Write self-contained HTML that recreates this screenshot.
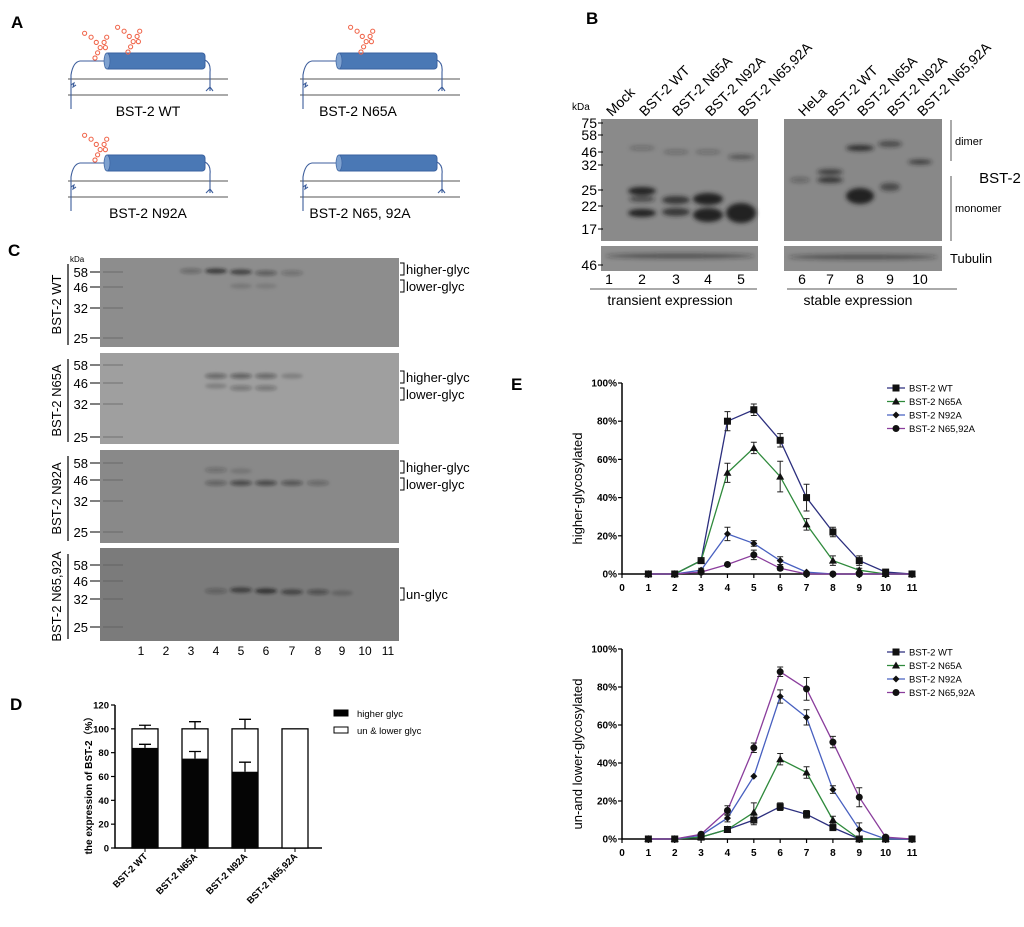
<!DOCTYPE html>
<html><head><meta charset="utf-8">
<style>
body{margin:0;background:#fff;}
svg{display:block;font-family:"Liberation Sans","Noto Sans CJK SC",sans-serif;}
</style></head>
<body>
<svg id="fig" width="1024" height="927" viewBox="0 0 1024 927" xmlns="http://www.w3.org/2000/svg">
<defs>
<filter id="blur" x="-50%" y="-50%" width="200%" height="200%"><feGaussianBlur stdDeviation="1.6"/></filter>
<filter id="blurB" x="-50%" y="-50%" width="200%" height="200%"><feGaussianBlur stdDeviation="2.2"/></filter>
<g id="glycan" fill="none" stroke="#f0654a" stroke-width="0.8" transform="scale(1.3)">
<circle cx="0" cy="0" r="1.6"/><circle cx="2" cy="-4" r="1.6"/><circle cx="4" cy="-8" r="1.6"/><circle cx="1" cy="-12" r="1.6"/><circle cx="-3" cy="-16" r="1.6"/><circle cx="-8" cy="-19" r="1.6"/><circle cx="7" cy="-12" r="1.6"/><circle cx="9" cy="-16" r="1.6"/><circle cx="8" cy="-8" r="1.6"/>
</g>
</defs>

<!-- Panel A -->
<text x="11" y="28" font-size="17" font-weight="bold">A</text>
<g id="panelA"></g>

<!-- Panel B -->
<text x="586" y="24" font-size="17" font-weight="bold">B</text>
<g>
<rect x="601" y="119" width="157" height="122" fill="#8a8a8a"/>
<rect x="784" y="119" width="158" height="122" fill="#888"/>
<rect x="601" y="246" width="157" height="25" fill="#8e8e8e"/>
<rect x="784" y="246" width="158" height="25" fill="#8c8c8c"/>
<g filter="url(#blurB)" fill="#222">
<ellipse cx="642" cy="191" rx="14" ry="4"/><ellipse cx="642" cy="213" rx="14" ry="4"/><ellipse cx="642" cy="199" rx="13" ry="3" opacity=".6"/>
<ellipse cx="676" cy="200" rx="14" ry="4" opacity=".8"/><ellipse cx="676" cy="212" rx="14" ry="4" opacity=".8"/>
<ellipse cx="708" cy="199" rx="15" ry="6"/><ellipse cx="708" cy="215" rx="15" ry="7"/>
<ellipse cx="741" cy="213" rx="15" ry="10"/>
<ellipse cx="642" cy="148" rx="13" ry="2" opacity=".3"/><ellipse cx="676" cy="152" rx="13" ry="2" opacity=".3"/><ellipse cx="708" cy="152" rx="13" ry="2" opacity=".3"/><ellipse cx="741" cy="157" rx="13" ry="2.5" opacity=".5"/>
<ellipse cx="800" cy="180" rx="10" ry="2.5" opacity=".35"/>
<ellipse cx="830" cy="172" rx="13" ry="3" opacity=".7"/><ellipse cx="830" cy="180" rx="13" ry="3" opacity=".8"/>
<ellipse cx="860" cy="148" rx="14" ry="3" opacity=".85"/><ellipse cx="860" cy="196" rx="14" ry="8"/>
<ellipse cx="890" cy="144" rx="12" ry="3" opacity=".6"/><ellipse cx="890" cy="187" rx="10" ry="4" opacity=".6"/>
<ellipse cx="920" cy="162" rx="12" ry="2.2" opacity=".8"/>
<ellipse cx="680" cy="256" rx="75" ry="2.5" opacity=".55"/><ellipse cx="863" cy="257" rx="75" ry="2.5" opacity=".55"/>
</g>
<text x="572" y="110" font-size="10">kDa</text>
<g font-size="14" text-anchor="end"><text x="597" y="128">75</text><text x="597" y="140">58</text><text x="597" y="157">46</text><text x="597" y="170">32</text><text x="597" y="195">25</text><text x="597" y="211">22</text><text x="597" y="234">17</text><text x="597" y="270">46</text></g>
<g stroke="#000" stroke-width="1"><path d="M598 123h5M598 135h5M598 152h5M598 165h5M598 190h5M598 206h5M598 229h5M598 265h5"/></g>
<g font-size="14"><text transform="translate(612,117) rotate(-45)">Mock</text><text transform="translate(645,117) rotate(-45)">BST-2 WT</text><text transform="translate(678,117) rotate(-45)">BST-2 N65A</text><text transform="translate(711,117) rotate(-45)">BST-2 N92A</text><text transform="translate(744,117) rotate(-45)">BST-2 N65,92A</text>
<text transform="translate(804,117) rotate(-45)">HeLa</text><text transform="translate(833,117) rotate(-45)">BST-2 WT</text><text transform="translate(863,117) rotate(-45)">BST-2 N65A</text><text transform="translate(893,117) rotate(-45)">BST-2 N92A</text><text transform="translate(923,117) rotate(-45)">BST-2 N65,92A</text></g>
<g font-size="14" text-anchor="middle"><text x="609" y="284">1</text><text x="642" y="284">2</text><text x="676" y="284">3</text><text x="708" y="284">4</text><text x="741" y="284">5</text><text x="802" y="284">6</text><text x="830" y="284">7</text><text x="860" y="284">8</text><text x="890" y="284">9</text><text x="920" y="284">10</text>
<text x="670" y="305">transient expression</text><text x="858" y="305">stable expression</text></g>
<path d="M590 289h167M787 289h170M951 120v41M951 176v65" stroke="#555" stroke-width="1"/>
<text x="955" y="145" font-size="11">dimer</text><text x="955" y="212" font-size="11">monomer</text>
<text x="1000" y="183" font-size="15" text-anchor="middle">BST-2</text>
<text x="950" y="263" font-size="13">Tubulin</text>
</g>

<!-- Panel C -->
<text x="8" y="256" font-size="17" font-weight="bold">C</text>
<g id="panelC"></g>

<!-- Panel D -->
<text x="10" y="710" font-size="17" font-weight="bold">D</text>
<g id="panelD"></g>

<!-- Panel E -->
<text x="511" y="390" font-size="17" font-weight="bold">E</text>
<g id="panelE1"></g>
<g id="panelE2"></g>
</svg>

<script>
// ---------- Panel E data ----------
const fractions = [0,1,2,3,4,5,6,7,8,9,10,11];
const xTickLabels = ["0","1","2","3","4","5","6","7","8","9","10","11"];
const yTickLabels = ["0%","20%","40%","60%","80%","100%"];
const seriesNames = ["BST-2 WT","BST-2 N65A","BST-2 N92A","BST-2 N65,92A"];
const higherWT    = [0,0,7,80,86,70,40,22,7,1,0];
const higherN65A  = [0,0,7,53,66,51,26,7,2,0,0];
const higherN92A  = [0,0,2,21,16,7,1,0,0,0,0];
const higherN6592 = [0,0,1,5,10,3,0,0,0,0,0];
const higherErrWT    = [0,0,1,5,3,3.5,7,2.5,2.5,0,0];
const higherErrN65A  = [0,0,1,5,3,8,3,2.5,1,0,0];
const higherErrN92A  = [0,0,1,3.5,1.5,2,0.5,0,0,0,0];
const higherErrN6592 = [0,0,0.5,0.5,2.5,1,0,0,0,0,0];
const lowerWT    = [0,0,1,5,10,17,13,6,0,0,0];
const lowerN65A  = [0,0,1,5,14,42,35,10,0,0,0];
const lowerN92A  = [0,0,2,11,33,75,64,26,5,0,0];
const lowerN6592 = [0,0,2.5,15,48,88,79,51,22,1,0];
const lowerErrWT    = [0,0,0.5,1.5,2.5,2,2,1.5,0,0,0];
const lowerErrN65A  = [0,0,0.5,1,5,3,3,2,0,0,0];
const lowerErrN92A  = [0,0,0.5,2,0.5,3.5,4,2,3.5,0,0];
const lowerErrN6592 = [0,0,0.5,2.5,2.5,2.5,6,3,5,0,0];

// ---------- Panel D data ----------
const barCategories = ["BST-2 WT","BST-2 N65A","BST-2 N92A","BST-2 N65,92A"];
const barHigher = [84,75,64,0];
const barHigherErr = [3,6,8,0];
const barTotal = [100,100,100,100];
const barTotalErr = [3,6,8,0];
const barYTicks = [0,20,40,60,80,100,120];

const NS="http://www.w3.org/2000/svg";
function mk(parent,tag,attrs,text){const e=document.createElementNS(NS,tag);for(const k in attrs)e.setAttribute(k,attrs[k]);if(text!==undefined)e.textContent=text;parent.appendChild(e);return e;}

// ---------- Panel A ----------
(function(){
  const g=document.getElementById('panelA');
  const items=[[0,0,"BST-2 WT",[[95,58],[128,52]],148],[232,0,"BST-2 N65A",[[361,52]],126],[0,102,"BST-2 N92A",[[95,160]],148],[232,102,"BST-2 N65, 92A",[],128]];
  items.forEach(it=>{
    const dx=it[0],dy=it[1];
    const d=mk(g,'g',{});
    
    
    mk(d,'path',{d:`M${68+dx} ${79+dy}H${228+dx}M${68+dx} ${95+dy}H${228+dx}`,stroke:'#555','stroke-width':1});
    mk(d,'path',{d:`M${71+dx} ${109+dy}V${75+dy}Q${73+dx} ${62+dy} ${80+dx} ${61+dy}H${106+dx}M${205+dx} ${60+dy}Q${211+dx} ${63+dy} ${210+dx} ${72+dy}V${91+dy}M${210+dx} ${87+dy}l-4 4M${210+dx} ${87+dy}l3 4M${71+dx} ${85+dy}l3-2l-1 4l3-2`,stroke:'#3d5e9c','stroke-width':1.1,fill:'none'});
    mk(d,'rect',{x:105+dx,y:53+dy,width:100,height:16,rx:3,fill:'#4a78b5',stroke:'#3a62a0'});
    mk(d,'ellipse',{cx:107+dx,cy:61+dy,rx:3,ry:8,fill:'#7fa2d0',stroke:'#3a62a0','stroke-width':.7});
    mk(d,'text',{x:it[4]+dx,y:116+dy,'font-size':14,'text-anchor':'middle'},it[2]);
    it[3].forEach(p=>{mk(d,'use',{href:'#glycan',x:p[0],y:p[1]});});
  });
})();

// ---------- Panel C ----------
(function(){
  const g=document.getElementById('panelC');
  const rows=[
    {y:258,h:89,fill:'#8d8d8d',name:'BST-2 WT',kd:[272,287,308,338],labels:[["higher-glyc",269],["lower-glyc",286]],bands:[[191,271,.3],[216,271,.7],[241,272,.65],[266,273,.4],[292,273,.25],[241,286,.15],[266,286,.12]]},
    {y:353,h:91,fill:'#9f9f9f',name:'BST-2 N65A',kd:[365,383,404,437],labels:[["higher-glyc",377],["lower-glyc",394]],bands:[[216,376,.4],[241,376,.45],[266,376,.4],[292,376,.2],[216,386,.2],[241,388,.3],[266,388,.3]]},
    {y:450,h:93,fill:'#898989',name:'BST-2 N92A',kd:[463,480,501,532],labels:[["higher-glyc",467],["lower-glyc",484]],bands:[[216,470,.25],[241,471,.15],[216,483,.35],[241,483,.55],[266,483,.55],[292,483,.45],[318,483,.3]]},
    {y:548,h:93,fill:'#7b7b7b',name:'BST-2 N65,92A',kd:[565,581,599,627],labels:[["un-glyc",594]],bands:[[216,591,.3],[241,590,.65],[266,591,.75],[292,592,.6],[318,592,.45],[342,593,.2]]}
  ];
  const kdNames=["58","46","32","25"];
  rows.forEach(r=>{
    const rg=mk(g,'g',{});
    
    
    mk(rg,'rect',{x:100,y:r.y,width:299,height:r.h,fill:r.fill});
    const bg=mk(rg,'g',{filter:'url(#blur)'});
    r.bands.forEach(b=>mk(bg,'ellipse',{cx:b[0],cy:b[1],rx:11,ry:2.6,fill:'#1a1a1a',opacity:b[2]}));
    r.kd.forEach((y,i)=>{mk(rg,'text',{x:88,y:y+5,'font-size':13,'text-anchor':'end'},kdNames[i]);mk(rg,'path',{d:`M90 ${y}h10`,stroke:'#000'});mk(rg,'path',{d:`M103 ${y}h20`,stroke:'#555','stroke-width':1.5,opacity:.4});});
    mk(rg,'path',{d:`M68 ${r.y+6}V${r.y+r.h-2}`,stroke:'#000','stroke-width':1.2});
    mk(rg,'text',{transform:`translate(61,${r.y+r.h/2+2}) rotate(-90)`,'font-size':13,'text-anchor':'middle'},r.name);
    r.labels.forEach(l=>{mk(rg,'path',{d:`M400 ${l[1]-6}h4v12h-4`,stroke:'#000',fill:'none'});mk(rg,'text',{x:406,y:l[1]+5,'font-size':13},l[0]);});
  });
  mk(g,'text',{x:70,y:262,'font-size':8},'kDa');
  const lx=[141,166,191,216,241,266,292,318,342,365,388];
  lx.forEach((x,i)=>mk(g,'text',{x:x,y:655,'font-size':12,'text-anchor':'middle'},String(i+1)));
})();

// ---------- Panel D ----------
(function(){
  const g=document.getElementById('panelD');
  const x0=115,xEnd=322,yTop=705,yBot=848,yMax=120;
  const Y=v=>yBot-(v/yMax)*(yBot-yTop);
  const bw=26, cx=i=>145+i*50;
  mk(g,'path',{d:`M${x0} ${yTop}V${yBot}H${xEnd}`,stroke:'#000','stroke-width':1.5,fill:'none'});
  barYTicks.forEach(t=>{mk(g,'path',{d:`M${x0-4} ${Y(t)}h4`,stroke:'#000','stroke-width':1.2});mk(g,'text',{x:x0-6,y:Y(t)+3.5,'font-size':9.5,'font-weight':'bold','text-anchor':'end'},String(t));});
  barCategories.forEach((c,i)=>{
    const x=cx(i);
    const tb=mk(g,'rect',{x:x-bw/2,y:Y(barTotal[i]),width:bw,height:yBot-Y(barTotal[i]),fill:'#fff',stroke:'#000','stroke-width':1.3});
    
    
    if(barTotalErr[i]>0){mk(g,'path',{d:`M${x} ${Y(barTotal[i])}V${Y(barTotal[i]+barTotalErr[i])}M${x-6} ${Y(barTotal[i]+barTotalErr[i])}h12`,stroke:'#000','stroke-width':1.3});}
    if(barHigher[i]>0){
      const hb=mk(g,'rect',{x:x-bw/2,y:Y(barHigher[i]),width:bw,height:yBot-Y(barHigher[i]),fill:'#050505'});
      
      
      mk(g,'path',{d:`M${x} ${Y(barHigher[i])}V${Y(barHigher[i]+barHigherErr[i])}M${x-6} ${Y(barHigher[i]+barHigherErr[i])}h12`,stroke:'#000','stroke-width':1.3});
    }
    mk(g,'path',{d:`M${x} ${yBot}v4`,stroke:'#000'});
    mk(g,'text',{transform:`translate(${x+3},${yBot+9}) rotate(-45)`,'font-size':9.5,'font-weight':'bold','text-anchor':'end'},c);
  });
  mk(g,'text',{transform:`translate(92,783) rotate(-90)`,'font-size':10,'font-weight':'bold','text-anchor':'middle'},'the expression of BST-2（%）');
  mk(g,'rect',{x:334,y:710,width:14,height:6,fill:'#000',stroke:'#000'});
  mk(g,'text',{x:357,y:717,'font-size':9.5},'higher glyc');
  mk(g,'rect',{x:334,y:727,width:14,height:6,fill:'#fff',stroke:'#000'});
  mk(g,'text',{x:357,y:734,'font-size':9.5},'un & lower glyc');
})();

// ---------- Panel E ----------
const colors=["#2c2f7e","#2f8a3c","#4860c0","#8a3d9c"];
const markers=["square","triangle","diamond","circle"];
function marker(g,type,x,y,col){
  if(type==="square") return mk(g,'rect',{x:x-3.5,y:y-3.5,width:7,height:7,fill:'#111'});
  if(type==="triangle") return mk(g,'path',{d:`M${x} ${y-4}L${x+4} ${y+3}L${x-4} ${y+3}Z`,fill:'#111'});
  if(type==="diamond") return mk(g,'path',{d:`M${x} ${y-3.5}L${x+3.5} ${y}L${x} ${y+3.5}L${x-3.5} ${y}Z`,fill:'#111'});
  return mk(g,'circle',{cx:x,cy:y,r:3.5,fill:'#111'});
}
function lineChart(gid,top,bot,title,series,errs,legTop){
  const g=document.getElementById(gid);
  const x0=622,x11=912;
  const X=v=>x0+(v/11)*(x11-x0);
  const Y=v=>bot-(v/100)*(bot-top);
  mk(g,'path',{d:`M${x0} ${top}V${bot}H${x11+3}`,stroke:'#000','stroke-width':1.5,fill:'none'});
  yTickLabels.forEach((t,i)=>{const v=i*20;mk(g,'path',{d:`M${x0-4} ${Y(v)}h4`,stroke:'#000','stroke-width':1.2});mk(g,'text',{x:x0-5,y:Y(v)+3.5,'font-size':10,'font-weight':'bold','text-anchor':'end'},t);});
  fractions.forEach((f,i)=>{mk(g,'path',{d:`M${X(f)} ${bot}v4`,stroke:'#000','stroke-width':1.2});mk(g,'text',{x:X(f),y:bot+17,'font-size':10,'font-weight':'bold','text-anchor':'middle'},xTickLabels[i]);});
  mk(g,'text',{transform:`translate(582,${(top+bot)/2+10}) rotate(-90)`,'font-size':13,'text-anchor':'middle'},title);
  series.forEach((s,si)=>{
    const pts=s.map((v,i)=>`${X(i+1)},${Y(v)}`).join(' ');
    const pl=mk(g,'polyline',{points:pts,fill:'none',stroke:colors[si],'stroke-width':1.3});
    
    
  });
  series.forEach((s,si)=>{
    s.forEach((v,i)=>{
      const e=errs[si][i],x=X(i+1);
      if(e>0.8){mk(g,'path',{d:`M${x} ${Y(v-e)}V${Y(v+e)}M${x-3} ${Y(v-e)}h6M${x-3} ${Y(v+e)}h6`,stroke:'#222','stroke-width':1});}
      const m=marker(g,markers[si],x,Y(v),colors[si]);
      
      
    });
  });
  seriesNames.forEach((n,si)=>{
    const y=legTop+si*13.5;
    const lg=mk(g,'g',{});
    
    
    mk(lg,'path',{d:`M887 ${y}h18`,stroke:colors[si],'stroke-width':1.3});
    marker(lg,markers[si],896,y,colors[si]);
    mk(lg,'text',{x:909,y:y+3.5,'font-size':9.5},n);
  });
}
lineChart('panelE1',383,574,'higher-glycosylated',[higherWT,higherN65A,higherN92A,higherN6592],[higherErrWT,higherErrN65A,higherErrN92A,higherErrN6592],388);
lineChart('panelE2',649,839,'un-and lower-glycosylated',[lowerWT,lowerN65A,lowerN92A,lowerN6592],[lowerErrWT,lowerErrN65A,lowerErrN92A,lowerErrN6592],652);
</script>
</body></html>
